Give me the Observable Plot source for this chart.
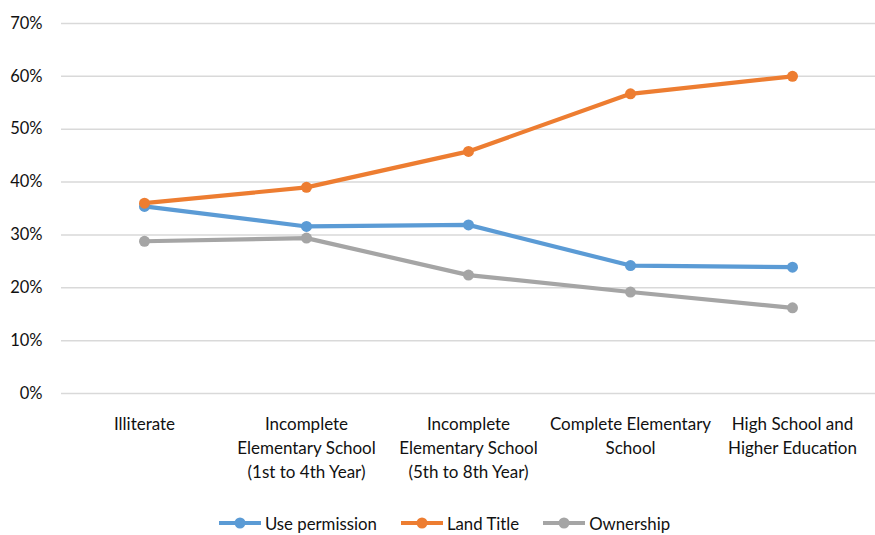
<!DOCTYPE html>
<html>
<head>
<meta charset="utf-8">
<script src="https://cdn.jsdelivr.net/npm/d3@7"></script>
<script src="https://cdn.jsdelivr.net/npm/@observablehq/plot@0.6"></script>
<style>
  body { margin: 0; background: #fff; font-family: Lato, "Open Sans", sans-serif; }
  #legend { display: flex; justify-content: center; align-items: center; gap: 24px; height: 40px; font-size: 16.8px; color: #111; margin-left: 14px; margin-top: 16px; }
  .item { display: flex; align-items: center; gap: 4px; }
</style>
</head>
<body>
<div id="chart"></div>
<div id="legend"></div>
<script>
const categories = [
  "Illiterate",
  "Incomplete\nElementary School\n(1st to 4th Year)",
  "Incomplete\nElementary School\n(5th to 8th Year)",
  "Complete Elementary\nSchool",
  "High School and\nHigher Education"
];
const seriesNames = ["Use permission", "Land Title", "Ownership"];
const colors = ["#5B9BD5", "#ED7D31", "#A5A5A5"];
const usePermission = [0.354, 0.316, 0.319, 0.242, 0.239];
const landTitle = [0.360, 0.390, 0.458, 0.567, 0.600];
const ownership = [0.288, 0.294, 0.224, 0.192, 0.162];
const yTicks = [0, 0.1, 0.2, 0.3, 0.4, 0.5, 0.6, 0.7];

const values = [usePermission, landTitle, ownership];
const data = [];
seriesNames.forEach((s, i) => categories.forEach((c, j) => data.push({series: s, cat: c, value: values[i][j]})));

const chart = Plot.plot({
  width: 875,
  height: 487,
  marginTop: 23,
  marginBottom: 94,
  marginLeft: 61,
  marginRight: 0,
  style: {fontFamily: "Lato, 'Open Sans', sans-serif", fontSize: "16px", color: "#111"},
  x: {domain: categories, type: "point", padding: 0.5},
  y: {domain: [0, 0.7]},
  color: {domain: seriesNames, range: colors},
  marks: [
    Plot.gridY(yTicks, {stroke: "#d9d9d9", strokeOpacity: 1, strokeWidth: 1.5}),
    Plot.axisY(yTicks, {tickSize: 0, tickPadding: 19, tickFormat: d => Math.round(d * 100) + "%", label: null, fontSize: 16.5}),
    Plot.axisX({tickSize: 0, tickPadding: 20, label: null, fontSize: 17, lineHeight: 1.39, tickFormat: d => d}),
    Plot.line(data, {x: "cat", y: "value", z: "series", stroke: "series", strokeWidth: 4.2}),
    Plot.dot(data, {x: "cat", y: "value", fill: "series", r: 5.5})
  ]
});
document.getElementById("chart").appendChild(chart);

const legend = document.getElementById("legend");
seriesNames.forEach((s, i) => {
  const item = document.createElement("div");
  item.className = "item";
  item.innerHTML = `<svg width="42" height="14"><line x1="0" y1="7" x2="42" y2="7" stroke="${colors[i]}" stroke-width="4"/><circle cx="21" cy="7" r="5.5" fill="${colors[i]}"/></svg><span>${s}</span>`;
  legend.appendChild(item);
});
</script>
</body>
</html>
